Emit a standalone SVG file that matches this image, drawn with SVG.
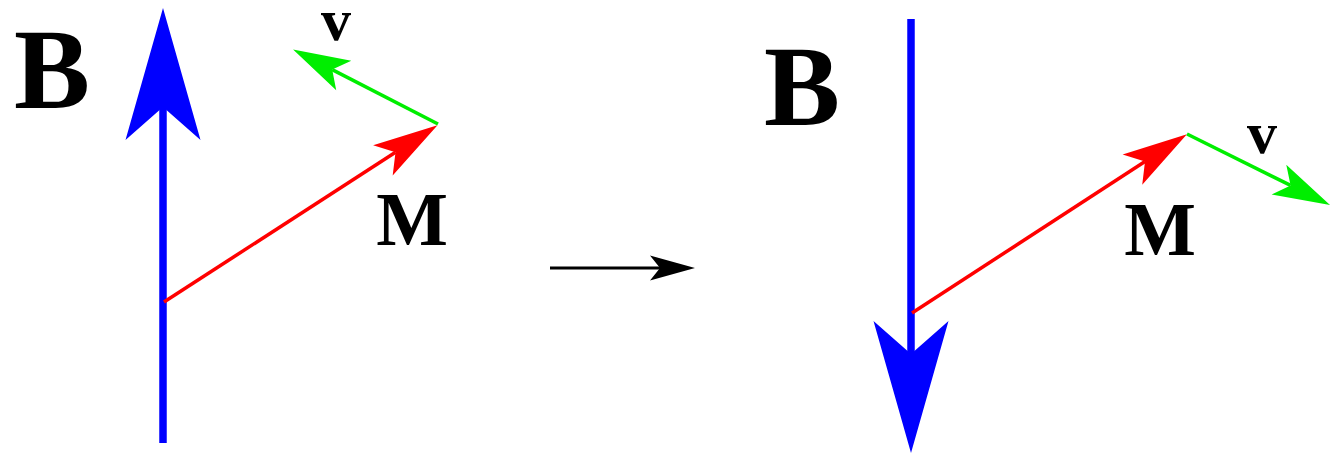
<svg xmlns="http://www.w3.org/2000/svg" width="1331" height="453" viewBox="0 0 1331 453">
<style>
.lbl{font-family:"Liberation Serif","Times New Roman",serif;font-weight:bold;fill:#000;text-anchor:middle}
.big{font-size:114px}
.mid{font-size:76px}
.sm{font-size:60px}
.b{stroke:#0000ff;stroke-width:7.5;fill:none}
.r{stroke:#ff0000;stroke-width:3.5;fill:none}
.g{stroke:#00ee00;stroke-width:3.5;fill:none}
.k{stroke:#000;stroke-width:3;fill:none}
</style>
<defs>
<marker id="hb" markerUnits="userSpaceOnUse" viewBox="-135 -40 140 80" markerWidth="140" markerHeight="80" refX="-99" refY="0" orient="auto" overflow="visible">
<path d="M0,0 L-132,-37.5 L-99,0 L-132,37.5 Z" fill="#0000ff"/>
</marker>
<marker id="hr" markerUnits="userSpaceOnUse" viewBox="-70 -20 74 40" markerWidth="74" markerHeight="40" refX="-50" refY="0" orient="auto" overflow="visible">
<path d="M0,0 L-65,-18 L-50,0 L-65,18 Z" fill="#ff0000"/>
</marker>
<marker id="hg" markerUnits="userSpaceOnUse" viewBox="-60 -20 64 40" markerWidth="64" markerHeight="40" refX="-44" refY="0" orient="auto" overflow="visible">
<path d="M0,0 L-57,-16.5 L-44,0 L-57,16.5 Z" fill="#00ee00"/>
</marker>
<marker id="hk" markerUnits="userSpaceOnUse" viewBox="-50 -15 54 30" markerWidth="54" markerHeight="30" refX="-35" refY="0" orient="auto" overflow="visible">
<path d="M0,0 L-45,-12.5 L-35,0 L-45,12.5 Z" fill="#000"/>
</marker>
</defs>
<g id="connectors">
<line class="b" x1="163" y1="443" x2="163" y2="107" marker-end="url(#hb)"/>
<line class="r" x1="164" y1="302" x2="395.5" y2="152.3" marker-end="url(#hr)"/>
<line class="g" x1="438" y1="124" x2="332.2" y2="69.6" marker-end="url(#hg)"/>
<line class="b" x1="911" y1="19" x2="911" y2="354" marker-end="url(#hb)"/>
<line class="r" x1="912" y1="313" x2="1145" y2="161.5" marker-end="url(#hr)"/>
<line class="g" x1="1187" y1="134" x2="1290.6" y2="185.4" marker-end="url(#hg)"/>
<line class="k" x1="550" y1="268" x2="660" y2="268" marker-end="url(#hk)"/>
</g>
<g id="label-B-left"><text class="lbl big" x="52" y="108">B</text></g>
<g id="label-v-left"><text class="lbl sm" x="336" y="40">v</text></g>
<g id="label-M-left"><text class="lbl mid" x="412" y="245">M</text></g>
<g id="label-B-right"><text class="lbl big" x="802" y="125">B</text></g>
<g id="label-M-right"><text class="lbl mid" x="1160" y="255">M</text></g>
<g id="label-v-right"><text class="lbl sm" x="1262" y="153">v</text></g>
</svg>
